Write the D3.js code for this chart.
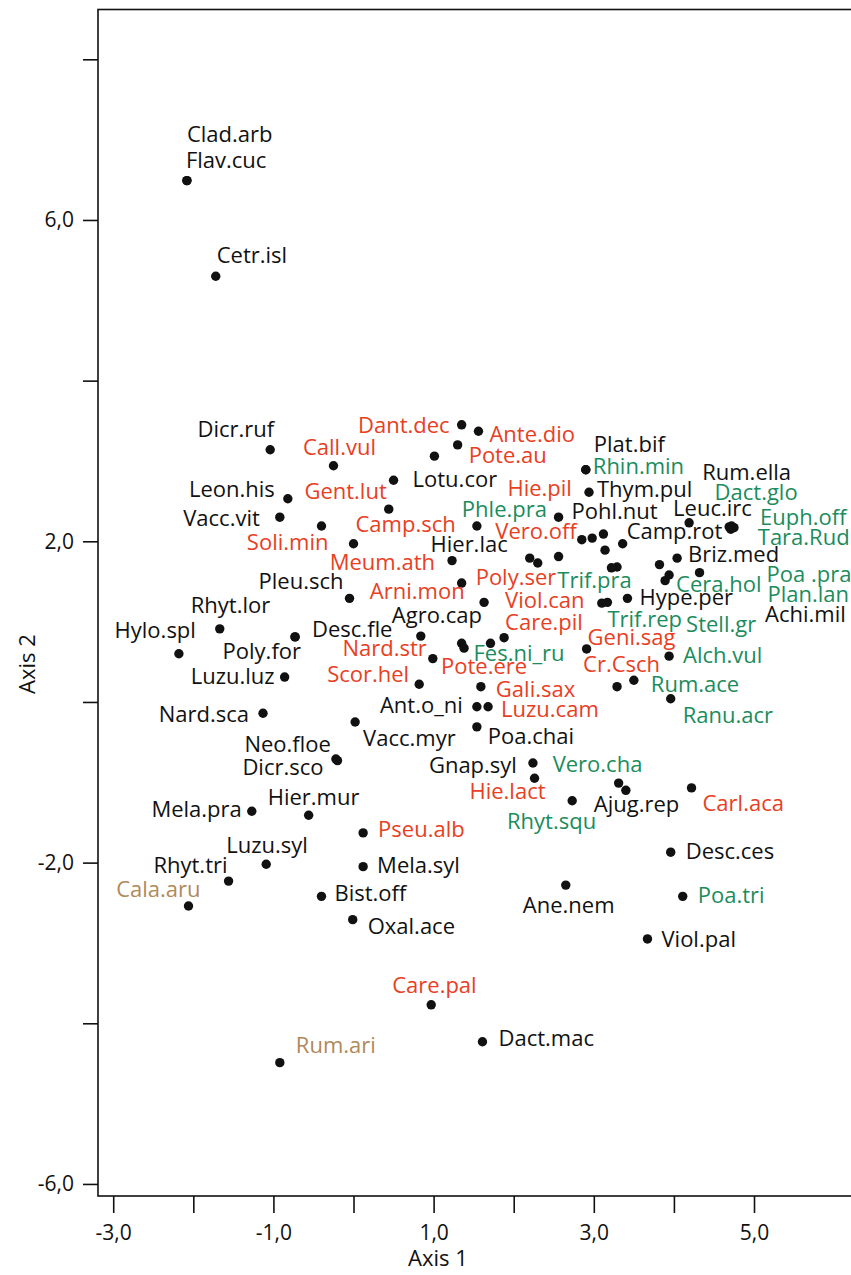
<!DOCTYPE html>
<html>
<head>
<meta charset="utf-8">
<script src="https://cdn.jsdelivr.net/npm/d3@7"></script>
<style>
  body { margin: 0; background: #fff; }
  svg text { font-family: "Open Sans", "Noto Sans", sans-serif; }
</style>
</head>
<body>
<script>
// species codes, ordination scores (axis 1 / axis 2) and group
var species = [
  "Clad.arb","Flav.cuc","Cetr.isl","Dicr.ruf","Call.vul","Dant.dec","Ante.dio","Pote.au","Hie.pil","Lotu.cor",
  "Leon.his","Gent.lut","Vacc.vit","Soli.min","Phle.pra","Camp.sch","Rhin.min","Plat.bif","Thym.pul","Pohl.nut",
  "Vero.off","Camp.rot","Hier.lac","Leuc.irc","Rum.ella","Dact.glo","Euph.off","Tara.Rud","Briz.med","Meum.ath",
  "Poly.ser","Viol.can","Arni.mon","Trif.pra","Trif.rep","Hype.per","Cera.hol","Stell.gr","Poa .pra","Plan.lan",
  "Achi.mil","Pleu.sch","Rhyt.lor","Desc.fle","Poly.for","Agro.cap","Hylo.spl","Luzu.luz","Nard.str","Pote.ere",
  "Fes.ni_ru","Care.pil","Scor.hel","Gali.sax","Geni.sag","Alch.vul","Cr.Csch","Rum.ace","Ranu.acr","Nard.sca",
  "Ant.o_ni","Luzu.cam","Vacc.myr","Poa.chai","Neo.floe","Dicr.sco","Gnap.syl","Hie.lact","Vero.cha","Ajug.rep",
  "Carl.aca","Rhyt.squ","Mela.pra","Hier.mur","Pseu.alb","Luzu.syl","Mela.syl","Rhyt.tri","Bist.off","Cala.aru",
  "Oxal.ace","Desc.ces","Ane.nem","Poa.tri","Viol.pal","Care.pal","Dact.mac","Rum.ari",
  "","","","","",""
];
var axis1 = [
  -2.08,-2.08,-1.72,-1.04,-0.25,1.35,1.56,1.30,1.01,0.50,
  -0.82,0.44,-0.92,-0.40,1.54,0.00,2.90,2.90,2.94,2.56,
  2.85,3.36,2.20,4.19,4.69,4.72,4.75,4.71,4.04,1.23,
  1.35,1.63,1.35,3.10,3.17,3.42,3.89,3.94,4.32,3.82,
  3.29,-0.05,-1.67,-0.73,-0.73,0.84,-2.18,-0.86,0.99,1.38,
  1.71,1.88,0.82,1.59,2.91,3.94,3.29,3.50,3.96,-1.13,
  1.54,1.68,0.02,1.54,-0.22,-0.20,2.24,2.26,3.31,3.40,
  4.22,2.73,-1.27,-0.56,0.12,-1.09,0.12,-1.56,-0.40,-2.06,
  -0.01,3.96,2.65,4.11,3.67,0.97,1.61,-0.92,
  2.98,3.12,3.14,2.56,2.30,3.22
];
var axis2 = [
  6.49,6.49,5.30,3.14,2.94,3.45,3.37,3.20,3.06,2.76,
  2.53,2.40,2.30,2.19,2.19,1.97,2.89,2.89,2.61,2.30,
  2.02,1.97,1.79,2.23,2.18,2.19,2.17,2.15,1.79,1.76,
  1.48,1.24,0.73,1.23,1.24,1.29,1.51,1.58,1.61,1.71,
  1.68,1.29,0.91,0.81,0.81,0.82,0.60,0.31,0.54,0.67,
  0.73,0.80,0.22,0.19,0.66,0.57,0.19,0.27,0.04,-0.14,
  -0.06,-0.06,-0.25,-0.31,-0.71,-0.73,-0.76,-0.95,-1.01,-1.10,
  -1.07,-1.23,-1.36,-1.41,-1.63,-2.02,-2.05,-2.23,-2.42,-2.54,
  -2.71,-1.87,-2.28,-2.42,-2.95,-3.77,-4.23,-4.49,
  2.04,2.09,1.89,1.81,1.73,1.67
];
var group = [
  "k","k","k","k","r","r","r","r","r","k",
  "k","r","k","r","g","r","g","k","k","k",
  "r","k","k","k","k","g","g","g","k","r",
  "r","r","r","g","g","k","g","g","g","g",
  "k","k","k","k","k","k","k","k","r","r",
  "g","r","r","r","r","g","r","g","g","k",
  "k","r","k","k","k","k","k","r","g","k",
  "r","g","k","k","r","k","k","k","k","t",
  "k","k","k","g","k","r","k","t",
  "k","k","k","k","k","k"
];
var xTicks = [-3,-2,-1,0,1,2,3,4,5];
var xLabelled = [-3,-1,1,3,5];
var yTicks = [-6,-4,-2,0,2,4,6,8];
var yLabelled = [-6,-2,2,6];

// label placement relative to the point (px): dx, dy, anchor
var labelPos = [
  [0,-39,"s"],[-1,-13,"s"],[1,-13,"s"],[4,-13,"e"],[6,-11,"m"],[-12,8,"e"],[11,11,"s"],[11,18,"s"],[73,40,"s"],[19,7,"s"],
  [-13,-2,"e"],[-2,-10,"e"],[-20,9,"e"],[7,24,"e"],[-15,-9,"s"],[2,-12,"s"],[7,4,"s"],[8,-18,"s"],[8,5,"s"],[13,2,"s"],
  [-5,-1,"e"],[4,-5,"s"],[-22,-6,"e"],[-16,-7,"s"],[-27,-47,"s"],[-17,-26,"s"],[26,-3,"s"],[27,16,"s"],[11,4,"s"],[-17,9,"e"],
  [14,2,"s"],[21,6,"s"],[3,-44,"e"],[30,-15,"e"],[0,25,"s"],[12,7,"s"],[11,11,"s"],[17,57,"s"],[67,9,"s"],[108,37,"s"],
  [148,55,"s"],[-6,-9,"e"],[-29,-16,"s"],[17,0,"s"],[6,22,"e"],[-29,-13,"s"],[17,-16,"e"],[-10,7,"e"],[-6,-3,"e"],[-23,26,"s"],
  [-17,18,"s"],[1,-8,"s"],[-10,-2,"e"],[15,10,"s"],[1,-4,"s"],[14,7,"s"],[-34,-15,"s"],[17,12,"s"],[12,24,"s"],[-14,9,"e"],
  [-14,6,"e"],[13,10,"s"],[8,24,"s"],[11,17,"s"],[-5,-7,"e"],[-14,14,"e"],[-16,10,"e"],[11,21,"e"],[-66,-11,"s"],[-32,22,"s"],
  [11,23,"s"],[24,28,"e"],[-10,6,"e"],[-41,-10,"s"],[15,4,"s"],[-40,-11,"s"],[14,6,"s"],[-1,-8,"e"],[13,5,"s"],[12,-9,"e"],
  [15,14,"s"],[15,7,"s"],[-43,28,"s"],[15,7,"s"],[14,8,"s"],[-39,-12,"s"],[16,4,"s"],[16,-10,"s"],
  null,null,null,null,null,null
];

var colors = {k:"#111111", r:"#e8401f", g:"#1b8c5c", t:"#b0895a"};
var anchors = {s:"start", e:"end", m:"middle"};

var W = 851, H = 1275;
var x = d3.scaleLinear().domain([-3.19, 7]).range([98, 914.2]);
var y = d3.scaleLinear().domain([-6.15, 8.62]).range([1196, 9.5]);

var loc = d3.formatLocale({decimal:",", thousands:".", grouping:[3], currency:["",""], minus:"-"});
var fmt = loc.format(".1f");

var svg = d3.select("body").append("svg").attr("width", W).attr("height", H);

// frame
svg.append("rect")
    .attr("x", x.range()[0]).attr("y", y.range()[1])
    .attr("width", x.range()[1] - x.range()[0])
    .attr("height", y.range()[0] - y.range()[1])
    .attr("fill", "none").attr("stroke", "#111").attr("stroke-width", 1.6);

var xAxis = d3.axisBottom(x).tickValues(xTicks).tickSize(17).tickPadding(12).tickSizeOuter(0)
    .tickFormat(function(d){ return xLabelled.indexOf(d) >= 0 ? fmt(d) : ""; });
var yAxis = d3.axisLeft(y).tickValues(yTicks).tickSize(15).tickPadding(9).tickSizeOuter(0)
    .tickFormat(function(d){ return yLabelled.indexOf(d) >= 0 ? fmt(d) : ""; });

var gx = svg.append("g").attr("transform", "translate(0," + y.range()[0] + ")").call(xAxis);
var gy = svg.append("g").attr("transform", "translate(" + x.range()[0] + ",0)").call(yAxis);
[gx, gy].forEach(function(g){
  g.select(".domain").remove();
  g.selectAll(".tick line").attr("stroke", "#111").attr("stroke-width", 1.6);
  g.selectAll(".tick text").attr("fill", "#111").style("font-size", "21px")
    .style("font-family", "'Open Sans', sans-serif");
});

svg.append("text").attr("x", 438).attr("y", 1266).attr("text-anchor", "middle")
    .style("font-size", "22px").attr("fill", "#111").text("Axis 1");
svg.append("text").attr("transform", "translate(35,664) rotate(-90)").attr("text-anchor", "middle")
    .style("font-size", "22px").attr("fill", "#111").text("Axis 2");

var pts = species.map(function(s, i){
  return {name: s, a1: axis1[i], a2: axis2[i], g: group[i], lp: labelPos[i]};
});

svg.append("g").selectAll("circle").data(pts).enter().append("circle")
    .attr("cx", function(d){ return x(d.a1); })
    .attr("cy", function(d){ return y(d.a2); })
    .attr("r", 4.7)
    .attr("fill", "#111");

svg.append("g").selectAll("text").data(pts.filter(function(d){ return d.lp; })).enter().append("text")
    .attr("x", function(d){ return x(d.a1) + d.lp[0]; })
    .attr("y", function(d){ return y(d.a2) + d.lp[1]; })
    .attr("text-anchor", function(d){ return anchors[d.lp[2]]; })
    .attr("fill", function(d){ return colors[d.g]; })
    .style("font-size", "22px")
    .text(function(d){ return d.name; });
</script>
</body>
</html>
